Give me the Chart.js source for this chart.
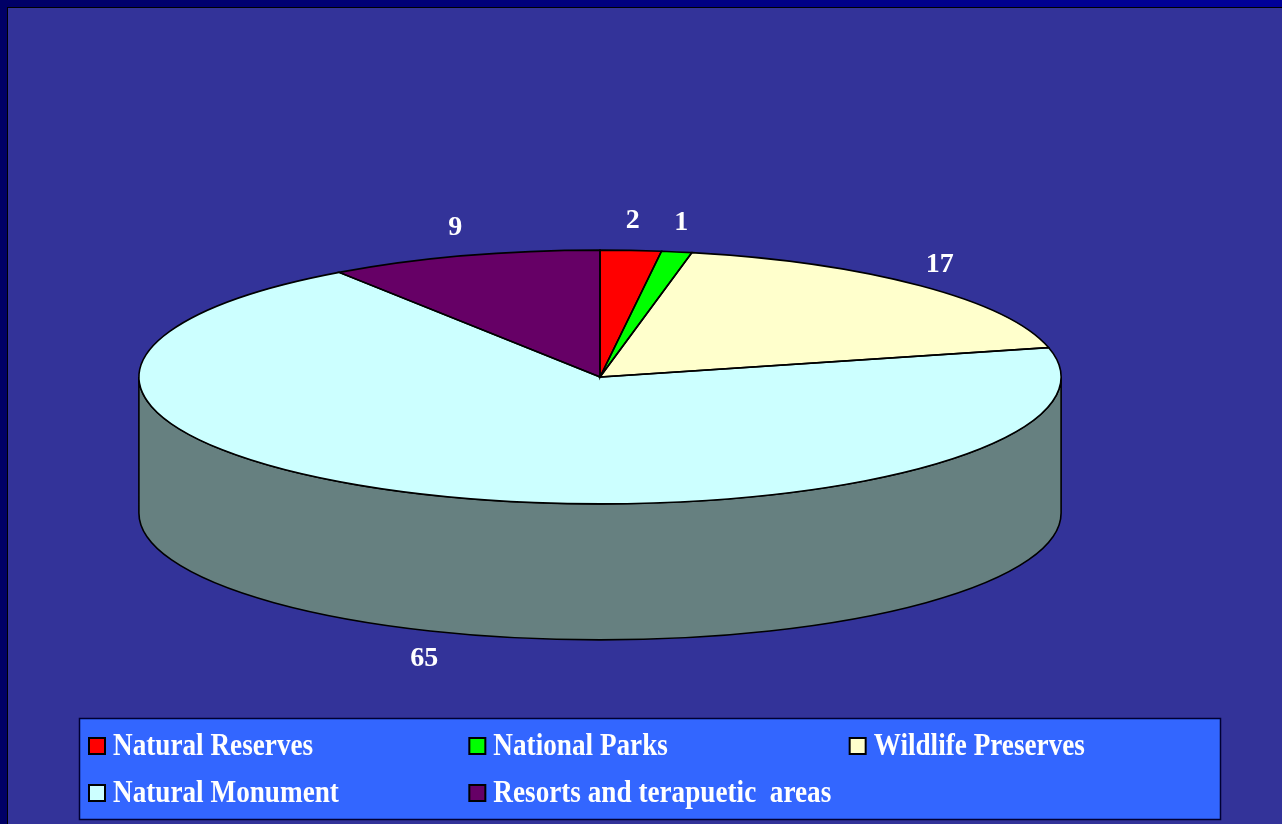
<!DOCTYPE html>
<html>
<head>
<meta charset="utf-8">
<script src="https://cdn.jsdelivr.net/npm/chart.js@4.4.1/dist/chart.umd.min.js"></script>
<style>
html, body { margin: 0; padding: 0; background: #333399; overflow: hidden; }
#wrap { width: 1282px; height: 824px; position: relative; }
</style>
</head>
<body>
<div id="wrap"><canvas id="myChart"></canvas></div>
<script>
const categories = ['Natural Reserves', 'National Parks', 'Wildlife Preserves', 'Natural Monument', 'Resorts and terapuetic  areas'];
const values = [2, 1, 17, 65, 9];
const colors = ['#ff0000', '#00ff00', '#ffffcc', '#ccffff', '#660066'];
const sideColors = ['#800000', '#008000', '#808066', '#668080', '#330033'];

// tilt of the flat pie and thickness of the disc
const tiltX = 1.537;
const tiltY = 0.423;
const depth = 136;

function pieGeom(chart) {
    const arcs = chart.getDatasetMeta(0).data;
    const a = arcs[0];
    return { arcs: arcs, cx: a.x, cy: a.y, rx: a.outerRadius * tiltX, ry: a.outerRadius * tiltY };
}

function drawWall(ctx, g, a0, a1, color) {
    ctx.beginPath();
    ctx.ellipse(g.cx, g.cy, g.rx, g.ry, 0, a0, a1);
    ctx.ellipse(g.cx, g.cy + depth, g.rx, g.ry, 0, a1, a0, true);
    ctx.closePath();
    ctx.fillStyle = color;
    ctx.fill();
    ctx.lineWidth = 1.6;
    ctx.strokeStyle = '#000';
    ctx.stroke();
}

const pie3d = {
    id: 'pie3d',
    beforeDraw(chart) {
        const ctx = chart.ctx;
        const w = chart.width, h = chart.height;
        ctx.save();
        ctx.fillStyle = '#333399';
        ctx.fillRect(0, 0, w, h);
        const grad = ctx.createLinearGradient(0, 0, w, 0);
        grad.addColorStop(0, '#000066');
        grad.addColorStop(1, '#000099');
        ctx.fillStyle = grad;
        ctx.fillRect(0, 0, w, 7);
        ctx.fillStyle = '#000066';
        ctx.fillRect(0, 0, 7, h);
        ctx.fillStyle = '#000';
        ctx.fillRect(7, 7, w - 7, 1);
        ctx.fillRect(7, 7, 1, h - 7);
        ctx.restore();
    },
    beforeDatasetsDraw(chart) {
        const ctx = chart.ctx;
        const g = pieGeom(chart);
        g.arcs.forEach((arc, i) => {
            for (const off of [0, 2 * Math.PI, -2 * Math.PI]) {
                const a0 = Math.max(arc.startAngle, off);
                const a1 = Math.min(arc.endAngle, off + Math.PI);
                if (a1 > a0) drawWall(ctx, g, a0, a1, sideColors[i]);
            }
        });
        ctx.save();
        ctx.translate(g.cx, g.cy);
        ctx.scale(tiltX, tiltY);
        ctx.translate(-g.cx, -g.cy);
    },
    afterDatasetsDraw(chart) {
        const ctx = chart.ctx;
        ctx.restore();
        const g = pieGeom(chart);
        ctx.save();
        ctx.lineWidth = 1.6;
        ctx.strokeStyle = '#000';
        g.arcs.forEach(arc => {
            ctx.beginPath();
            ctx.moveTo(g.cx, g.cy);
            ctx.ellipse(g.cx, g.cy, g.rx, g.ry, 0, arc.startAngle, arc.endAngle);
            ctx.closePath();
            ctx.stroke();
        });
        // value labels
        ctx.fillStyle = '#fff';
        ctx.font = 'bold 28px "Liberation Serif", "Times New Roman", serif';
        ctx.textAlign = 'center';
        ctx.textBaseline = 'middle';
        g.arcs.forEach((arc, i) => {
            const mid = (arc.startAngle + arc.endAngle) / 2;
            const s = Math.sin(mid);
            const x = g.cx + g.rx * 1.06 * Math.cos(mid);
            const y = g.cy + g.ry * 1.23 * s + (s > 0 ? depth : 0);
            ctx.fillText(String(values[i]), x, y);
        });
        ctx.restore();
    },
    afterDraw(chart) {
        const ctx = chart.ctx;
        const bx = 79, by = 718, bw = 1141, bh = 101;
        ctx.save();
        ctx.fillStyle = '#3366ff';
        ctx.fillRect(bx, by, bw, bh);
        ctx.strokeStyle = '#000033';
        ctx.lineWidth = 1.5;
        ctx.strokeRect(bx + 0.5, by + 0.5, bw, bh);
        const colW = bw / 3;
        const rows = [37, 84];
        categories.forEach((name, i) => {
            const x = bx + 10 + colW * (i % 3);
            const base = by + rows[Math.floor(i / 3)];
            ctx.fillStyle = colors[i];
            ctx.fillRect(x, base - 17, 16, 16);
            ctx.strokeStyle = '#000';
            ctx.lineWidth = 2;
            ctx.strokeRect(x, base - 17, 16, 16);
            ctx.save();
            ctx.translate(x + 24, base);
            ctx.scale(0.85, 1);
            ctx.fillStyle = '#fff';
            ctx.font = 'bold 32px "Liberation Serif", "Times New Roman", serif';
            ctx.textAlign = 'left';
            ctx.textBaseline = 'alphabetic';
            ctx.fillText(name, 0, 0);
            ctx.restore();
        });
        ctx.restore();
    }
};

const ctx = document.getElementById('myChart');
new Chart(ctx, {
    type: 'pie',
    data: {
        labels: categories,
        datasets: [{
            data: values,
            backgroundColor: colors,
            borderWidth: 0,
            clip: false
        }]
    },
    options: {
        responsive: true,
        maintainAspectRatio: false,
        animation: false,
        events: [],
        layout: { padding: { left: 300, right: 382, top: 77, bottom: 147 } },
        plugins: {
            legend: { display: false },
            tooltip: { enabled: false }
        }
    },
    plugins: [pie3d]
});
</script>
</body>
</html>
